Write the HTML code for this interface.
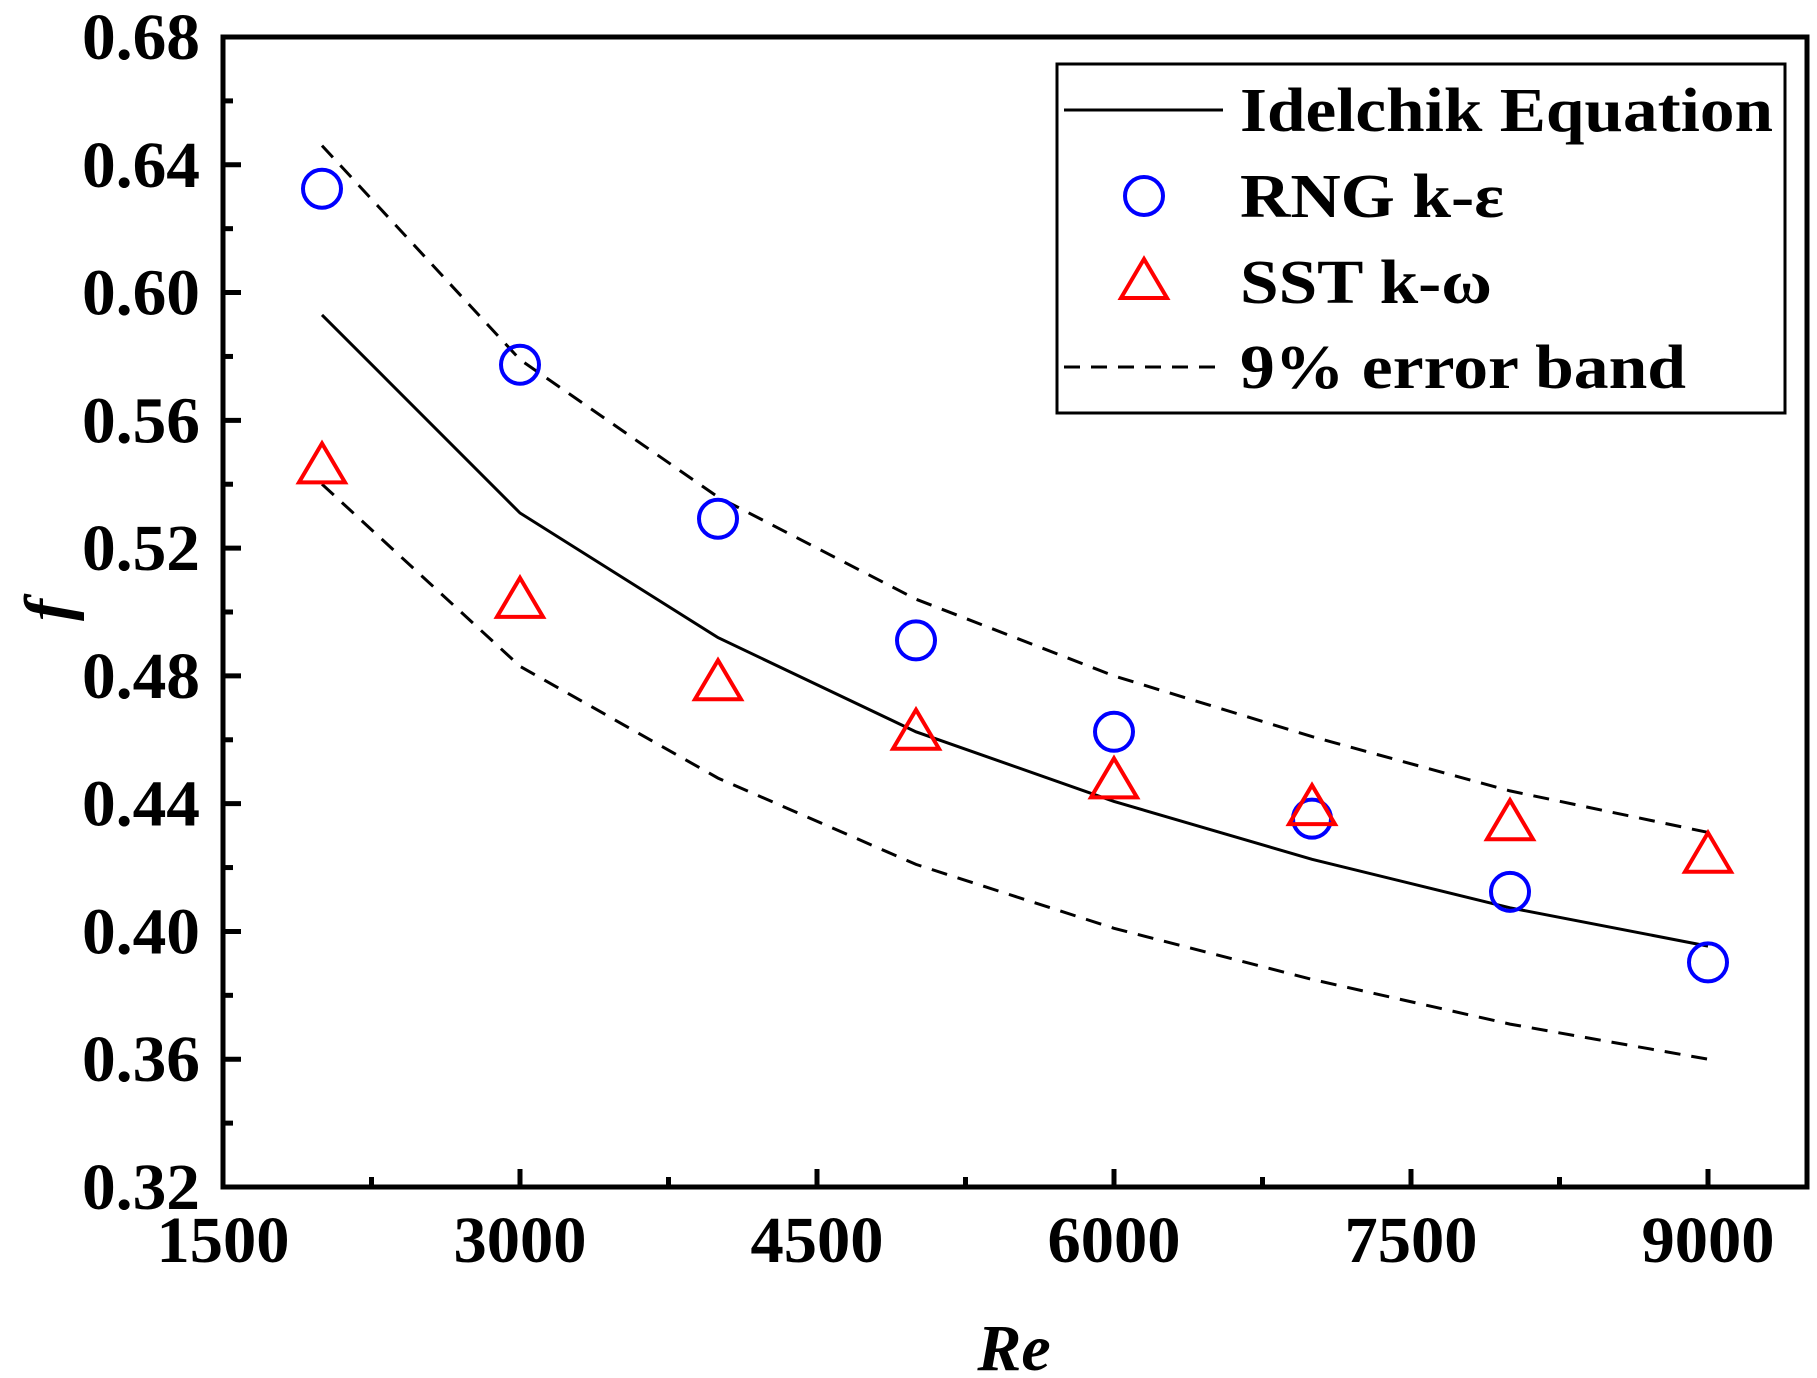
<!DOCTYPE html>
<html><head><meta charset="utf-8"><style>
html,body{margin:0;padding:0;background:#fff;}
svg{display:block;font-family:"Liberation Serif",serif;font-weight:bold;}
</style></head><body>
<svg id="chart" width="1817" height="1378" viewBox="0 0 1817 1378">
<g id="marks"></g>
<g id="axes"></g>
<g id="legend">
<rect x="1057" y="64" width="728" height="349" fill="#fff" stroke="#000" stroke-width="3"/>
<line x1="1064" y1="110" x2="1223" y2="110" stroke="#000" stroke-width="3"/>
<text x="1240" y="131" font-size="62" textLength="533" lengthAdjust="spacingAndGlyphs">Idelchik Equation</text>
<circle cx="1144" cy="196" r="19" fill="none" stroke="#0000ff" stroke-width="4"/>
<text x="1240" y="217" font-size="62" textLength="264" lengthAdjust="spacingAndGlyphs">RNG k-ε</text>
<polygon points="1144,259 1167,298 1121,298" fill="none" stroke="#ff0000" stroke-width="4"/>
<text x="1240" y="303" font-size="62" textLength="252" lengthAdjust="spacingAndGlyphs">SST k-ω</text>
<line x1="1064" y1="367" x2="1223" y2="367" stroke="#000" stroke-width="3" stroke-dasharray="16,11"/>
<text x="1240" y="388" font-size="62" textLength="446" lengthAdjust="spacingAndGlyphs">9% error band</text>
</g>
<text x="1014" y="1370" font-size="66" font-style="italic" text-anchor="middle">Re</text>
<text transform="translate(70,610) rotate(-90)" font-size="66" font-style="italic" text-anchor="middle">f</text>
</svg>
<script>
const reValues = [2000,3000,4000,5000,6000,7000,8000,9000];
const idelchik = [0.593,0.531,0.492,0.4625,0.4407,0.4226,0.4074,0.3954];
const upperBand = [0.646,0.579,0.536,0.504,0.480,0.461,0.444,0.431];
const lowerBand = [0.540,0.483,0.448,0.421,0.401,0.385,0.371,0.360];
const rngValues = [0.6325,0.5774,0.5292,0.4911,0.4625,0.4353,0.4124,0.3903];
const sstValues = [0.5459,0.5038,0.478,0.4625,0.4473,0.4389,0.4342,0.424];
const xTicks = [1500,3000,4500,6000,7500,9000];
const yTicks = [0.32,0.36,0.40,0.44,0.48,0.52,0.56,0.60,0.64,0.68];

const NS="http://www.w3.org/2000/svg";
const L=223,R=1807,T=37,B=1187;
const X0=1500,X1=9500,Y0=0.32,Y1=0.68;
const xs=v=>L+(v-X0)/(X1-X0)*(R-L);
const ys=v=>B-(v-Y0)/(Y1-Y0)*(B-T);
function mk(tag,attrs,parent){const e=document.createElementNS(NS,tag);for(const k in attrs)e.setAttribute(k,attrs[k]);parent.appendChild(e);return e;}
const marks=document.getElementById('marks');
const axes=document.getElementById('axes');
function poly(arr,dash,name){
  const pts=arr.map((v,i)=>xs(reValues[i]).toFixed(1)+','+ys(v).toFixed(1)).join(' ');
  const p=mk('polyline',{points:pts,fill:'none',stroke:'#000','stroke-width':3},marks);
  if(dash)p.setAttribute('stroke-dasharray','16,11');
  
  
}
poly(idelchik,false,'idelchik-line');
poly(upperBand,true,'upper-error-band');
poly(lowerBand,true,'lower-error-band');
rngValues.forEach((v,i)=>{
  const c=mk('circle',{cx:xs(reValues[i]),cy:ys(v),r:19,fill:'none',stroke:'#0000ff','stroke-width':4},marks);
  
  
});
sstValues.forEach((v,i)=>{
  const x=xs(reValues[i]),y=ys(v);
  const t=mk('polygon',{points:`${x},${y-22} ${x+23},${y+17} ${x-23},${y+17}`,fill:'none',stroke:'#ff0000','stroke-width':4},marks);
  
  
});
const frame=mk('rect',{x:L,y:T,width:R-L,height:B-T,fill:'none',stroke:'#000','stroke-width':5},axes);


xTicks.forEach((v,i)=>{
  const x=xs(v);
  mk('line',{x1:x,y1:B,x2:x,y2:B-18,stroke:'#000','stroke-width':5},axes);
  if(i<xTicks.length-1){const m=xs(v+750);mk('line',{x1:m,y1:B,x2:m,y2:B-10,stroke:'#000','stroke-width':5},axes);}
  const t=mk('text',{x:x,y:1262,'font-size':66,'text-anchor':'middle',textLength:133,lengthAdjust:'spacingAndGlyphs'},axes);
  t.textContent=v;
  
  
});
yTicks.forEach((v,i)=>{
  const y=ys(v);
  mk('line',{x1:L,y1:y,x2:L+18,y2:y,stroke:'#000','stroke-width':5},axes);
  if(i<yTicks.length-1){const m=ys(v+0.02);mk('line',{x1:L,y1:m,x2:L+10,y2:m,stroke:'#000','stroke-width':5},axes);}
  const t=mk('text',{x:200,y:y+22,'font-size':66,'text-anchor':'end',textLength:118,lengthAdjust:'spacingAndGlyphs'},axes);
  t.textContent=v.toFixed(2);
  
  
});
</script>
</body></html>
